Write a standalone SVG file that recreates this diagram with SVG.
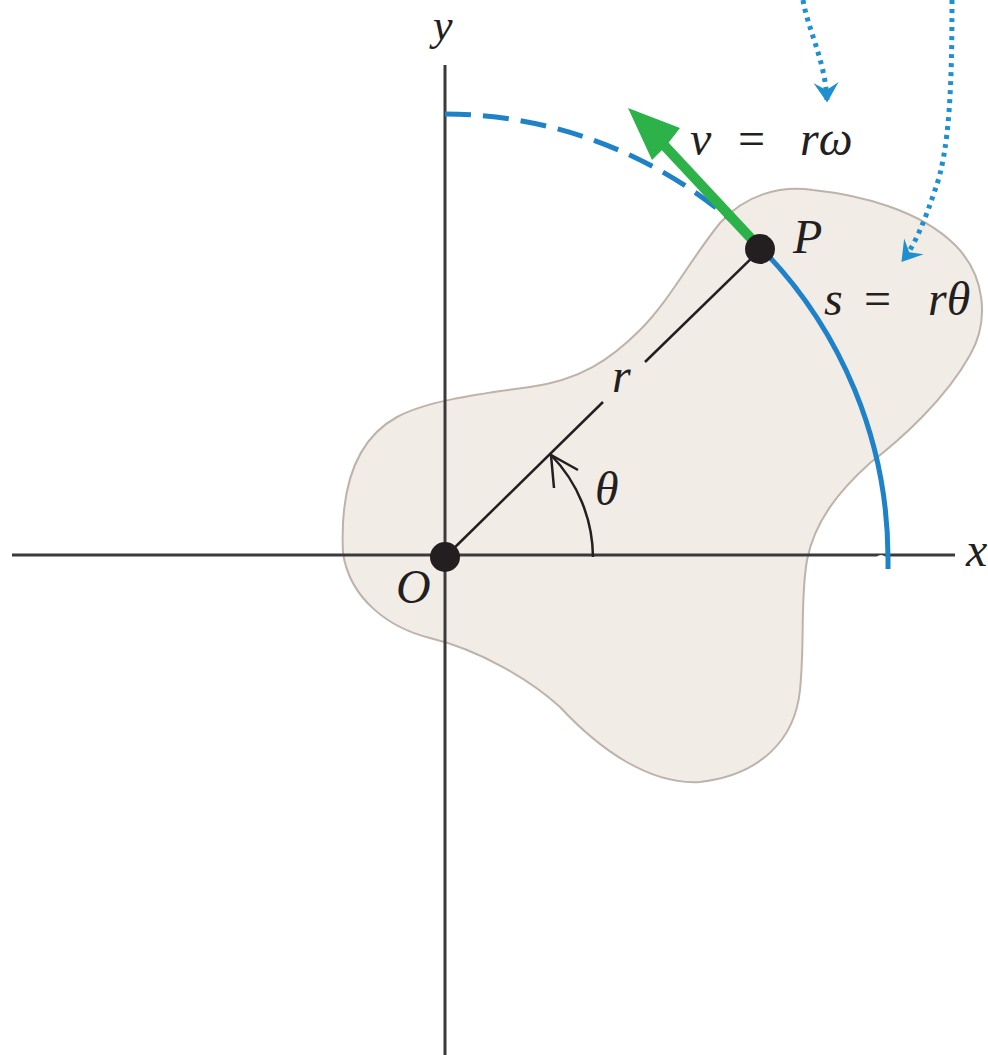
<svg xmlns="http://www.w3.org/2000/svg" width="988" height="1055" viewBox="0 0 988 1055">
<style>
.lbl{font-family:'Liberation Serif','Times New Roman',serif;font-style:italic;font-size:48px;fill:#231f20}
.eq{font-family:'Liberation Serif','Times New Roman',serif;font-style:normal;font-size:48px;fill:#231f20}
.axis{stroke:#3a3a3a;stroke-width:3;fill:none}
.blue{stroke:#1f82c8;stroke-width:5;fill:none}
.dot{stroke:#1e90d0;stroke-width:5;fill:none;stroke-dasharray:4 5}
</style>
<defs>
<marker id="dh" markerUnits="userSpaceOnUse" markerWidth="30" markerHeight="30" viewBox="-16 -12 20 24" refX="0" refY="0" orient="auto">
<path d="M2,0 L-14,-10 L-8,0 L-14,10 Z" fill="#1e90d0"/>
</marker>
</defs>
<rect width="988" height="1055" fill="#ffffff"/>
<g id="body">
<path d="M343,553 C340,490 355,440 397,417 C425,402 470,395 530,387 C580,380 610,360 640,330 C670,300 690,260 720,223 C745,195 780,185 813,190 C860,195 920,210 955,245 C985,275 990,320 970,355 C945,400 900,440 870,463 C840,490 815,520 807,560 C800,600 805,640 800,690 C795,740 760,775 700,782 C650,785 600,750 560,707 C530,680 480,650 430,638 C390,628 350,600 343,553 Z" fill="#f2ece7" stroke="#bdb3ab" stroke-width="2"/>
</g>
<g id="axes">
<line class="axis" x1="12" y1="555" x2="955" y2="555"/>
<line class="axis" x1="445" y1="65" x2="445" y2="1055"/>
<circle cx="881" cy="561" r="6" fill="#ffffff"/>
</g>
<g id="connectors">
<path class="blue" d="M445,114 A443,443 0 0 1 761,248" stroke-dasharray="26 12"/>
<path class="blue" d="M761,248 A443,443 0 0 1 888,557 L888,569"/>
<line x1="445" y1="557" x2="603" y2="402" stroke="#231f20" stroke-width="2.5"/>
<line x1="645" y1="362" x2="761" y2="249" stroke="#231f20" stroke-width="2.5"/>
<path d="M593,557 A148,148 0 0 0 551,455" stroke="#231f20" stroke-width="2.5" fill="none"/>
<path d="M578,470 L551,455 L554,488" stroke="#231f20" stroke-width="2.5" fill="none"/>
<line x1="761" y1="249" x2="662" y2="143" stroke="#2db24a" stroke-width="10"/>
<path d="M628,108 L680,128 L666,146 L652,160 Z" fill="#2db24a"/>
<path class="dot" d="M803,0 C808,30 825,60 827,100" marker-end="url(#dh)"/>
<path class="dot" d="M952,0 C952,80 950,150 935,190 C925,220 915,245 903,260" marker-end="url(#dh)"/>
</g>
<g id="points">
<circle cx="445" cy="557" r="15" fill="#231f20"/>
<circle cx="760" cy="249" r="15" fill="#231f20"/>
</g>
<g id="labels">
<text class="lbl" x="433" y="40" style="font-size:44px">y</text>
<text class="lbl" x="966" y="566">x</text>
<text class="lbl" x="396" y="603">O</text>
<text class="lbl" x="595" y="505">θ</text>
<text class="lbl" x="612" y="392">r</text>
<text class="lbl" x="793" y="253">P</text>
<text class="lbl" x="690" y="155">v</text>
<text class="eq" x="738" y="155">=</text>
<text class="lbl" x="800" y="155">rω</text>
<text class="lbl" x="824" y="315">s</text>
<text class="eq" x="864" y="315">=</text>
<text class="lbl" x="928" y="315">rθ</text>
</g>
</svg>
